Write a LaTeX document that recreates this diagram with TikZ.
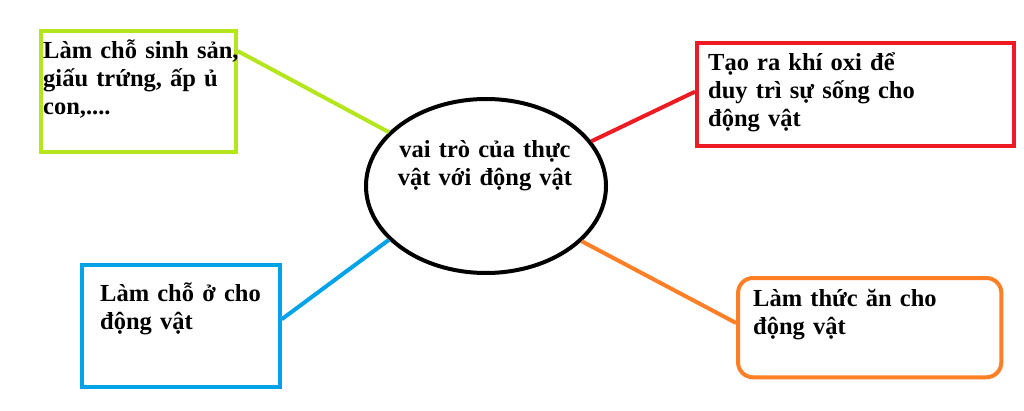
\documentclass[tikz,border=0pt]{standalone}
\usepackage{fontspec}
\setmainfont{Liberation Serif}
\usetikzlibrary{shapes.geometric}
\usetikzlibrary{positioning}
\definecolor{paintgreen}{RGB}{181,230,29}
\definecolor{paintred}{RGB}{237,28,36}
\definecolor{paintblue}{RGB}{0,162,232}
\definecolor{paintorange}{RGB}{255,127,39}
\tikzset{box/.style = {draw, line width = 4, inner sep = 0}}
\tikzset{lbl/.style = {inner sep = 0, align = left, anchor = base west, text width = 300, font = \bfseries\fontsize{24.5}{28}\selectfont}}
\tikzset{link/.style = {line width = 4}}

\begin{document}
\begin{tikzpicture}[x = 1pt, y = 1pt]
    \useasboundingbox [fill = white] (0, 0) rectangle (1024, 410);

    \node [draw, ellipse, line width = 4, inner sep = 0, minimum width = 240, minimum height = 174] (role) at (486, 224) {};
    \node [lbl, align = center, anchor = base, text width = 240] (roletext) at (485, 252) {vai trò của thực\\vật với động vật};

    \node [box, draw = paintgreen, minimum width = 195.5, minimum height = 121] (spawn) at (138.25, 318.5) {};
    \node [lbl] (spawntext) at (43, 351.7) {Làm chỗ sinh sản,\\giấu trứng, ấp ủ\\con,....};

    \node [box, draw = paintred, minimum width = 317, minimum height = 103.5] (oxygen) at (855.5, 315.5) {};
    \node [lbl] (oxygentext) at (708, 339.3) {Tạo ra khí oxi để\\duy trì sự sống cho\\động vật};

    \node [box, draw = paintblue, minimum width = 197.7, minimum height = 122] (shelter) at (180.9, 83.7) {};
    \node [lbl] (sheltertext) at (100, 108.3) {Làm chỗ ở cho\\động vật};

    \node [box, draw = paintorange, rounded corners = 15, minimum width = 263.3, minimum height = 99.3] (food) at (869.7, 82.35) {};
    \node [lbl] (foodtext) at (753, 104) {Làm thức ăn cho\\động vật};

    \draw [link, paintgreen] (spawn.22) -- (role.151);
    \draw [link, paintred] (oxygen.179) -- (role.23);
    \draw [link, paintblue] (shelter.4) -- (role.209);
    \draw [link, paintorange] (food.178) -- (role.330);
\end{tikzpicture}
\end{document}
